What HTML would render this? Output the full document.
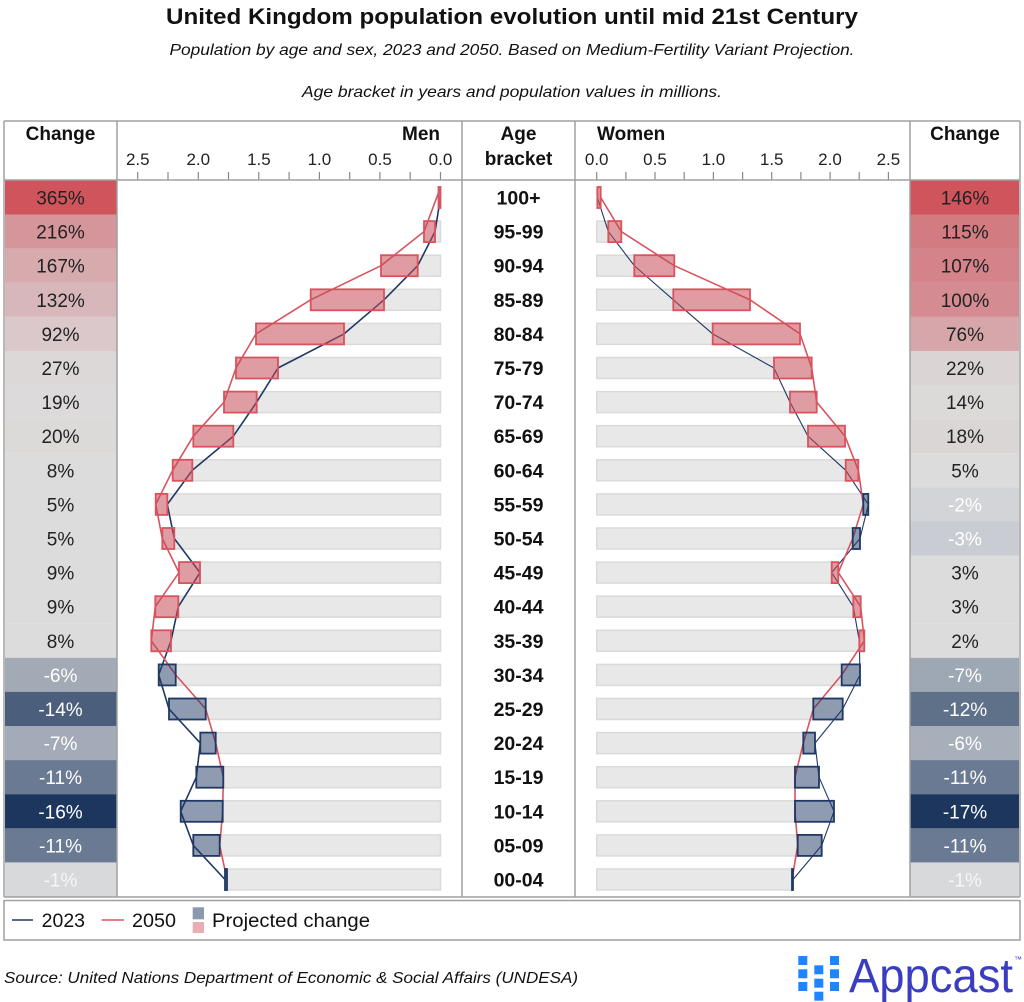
<!DOCTYPE html>
<html><head><meta charset="utf-8"><style>
html,body{margin:0;padding:0;background:#fff}
svg{display:block}
text{font-family:"Liberation Sans",Arial,sans-serif}
</style></head><body>
<svg width="1024" height="1002" viewBox="0 0 1024 1002" xmlns="http://www.w3.org/2000/svg">
<rect width="1024" height="1002" fill="#fff"/>
<!-- titles -->
<text x="512" y="24" text-anchor="middle" font-size="22" font-weight="bold" fill="#111" textLength="692" lengthAdjust="spacingAndGlyphs">United Kingdom population evolution until mid 21st Century</text>
<text x="512" y="55" text-anchor="middle" font-size="16" font-style="italic" fill="#111" textLength="685" lengthAdjust="spacingAndGlyphs">Population by age and sex, 2023 and 2050. Based on Medium-Fertility Variant Projection.</text>
<text x="512" y="97" text-anchor="middle" font-size="16" font-style="italic" fill="#111" textLength="420" lengthAdjust="spacingAndGlyphs">Age bracket in years and population values in millions.</text>

<!-- change cells left -->
<g>
<rect x="5" y="180.4" width="111.5" height="34.2" fill="#cf545c"/>
<rect x="5" y="214.5" width="111.5" height="34.2" fill="#d4959b"/>
<rect x="5" y="248.6" width="111.5" height="34.2" fill="#d7aaae"/>
<rect x="5" y="282.7" width="111.5" height="34.2" fill="#d8b7ba"/>
<rect x="5" y="316.8" width="111.5" height="34.2" fill="#dac8ca"/>
<rect x="5" y="350.9" width="111.5" height="34.2" fill="#dcd8d8"/>
<rect x="5" y="385.0" width="111.5" height="34.2" fill="#dcdada"/>
<rect x="5" y="419.1" width="111.5" height="34.2" fill="#dcd9d9"/>
<rect x="5" y="453.2" width="111.5" height="34.2" fill="#dcdcdc"/>
<rect x="5" y="487.3" width="111.5" height="34.2" fill="#dcdcdc"/>
<rect x="5" y="521.4" width="111.5" height="34.2" fill="#dcdcdc"/>
<rect x="5" y="555.5" width="111.5" height="34.2" fill="#dcdcdc"/>
<rect x="5" y="589.6" width="111.5" height="34.2" fill="#dcdcdc"/>
<rect x="5" y="623.7" width="111.5" height="34.2" fill="#dcdcdc"/>
<rect x="5" y="657.8" width="111.5" height="34.2" fill="#a2aab6"/>
<rect x="5" y="691.9" width="111.5" height="34.2" fill="#4b5e7c"/>
<rect x="5" y="726.0" width="111.5" height="34.2" fill="#a3abb8"/>
<rect x="5" y="760.1" width="111.5" height="34.2" fill="#6b7a93"/>
<rect x="5" y="794.2" width="111.5" height="34.2" fill="#1d365e"/>
<rect x="5" y="828.3" width="111.5" height="34.2" fill="#6b7a93"/>
<rect x="5" y="862.4" width="111.5" height="34.1" fill="#d8d9db"/>
</g>
<g font-size="19" text-anchor="middle">
<text x="60.5" y="204.5" fill="#222">365%</text>
<text x="60.5" y="238.6" fill="#222">216%</text>
<text x="60.5" y="272.7" fill="#222">167%</text>
<text x="60.5" y="306.8" fill="#222">132%</text>
<text x="60.5" y="340.9" fill="#222">92%</text>
<text x="60.5" y="375.0" fill="#222">27%</text>
<text x="60.5" y="409.1" fill="#222">19%</text>
<text x="60.5" y="443.2" fill="#222">20%</text>
<text x="60.5" y="477.3" fill="#222">8%</text>
<text x="60.5" y="511.4" fill="#222">5%</text>
<text x="60.5" y="545.5" fill="#222">5%</text>
<text x="60.5" y="579.6" fill="#222">9%</text>
<text x="60.5" y="613.7" fill="#222">9%</text>
<text x="60.5" y="647.8" fill="#222">8%</text>
<text x="60.5" y="681.9" fill="#fff">-6%</text>
<text x="60.5" y="716.0" fill="#fff">-14%</text>
<text x="60.5" y="750.1" fill="#fff">-7%</text>
<text x="60.5" y="784.2" fill="#fff">-11%</text>
<text x="60.5" y="818.3" fill="#fff">-16%</text>
<text x="60.5" y="852.4" fill="#fff">-11%</text>
<text x="60.5" y="886.5" fill="#f6f6f6">-1%</text>
</g>

<!-- change cells right -->
<g>
<rect x="910.5" y="180.4" width="108.5" height="34.2" fill="#cf545c"/>
<rect x="910.5" y="214.5" width="108.5" height="34.2" fill="#d27b81"/>
<rect x="910.5" y="248.6" width="108.5" height="34.2" fill="#d38389"/>
<rect x="910.5" y="282.7" width="108.5" height="34.2" fill="#d48b91"/>
<rect x="910.5" y="316.8" width="108.5" height="34.2" fill="#d7a6aa"/>
<rect x="910.5" y="350.9" width="108.5" height="34.2" fill="#dbd4d4"/>
<rect x="910.5" y="385.0" width="108.5" height="34.2" fill="#dcd9d9"/>
<rect x="910.5" y="419.1" width="108.5" height="34.2" fill="#dbd6d6"/>
<rect x="910.5" y="453.2" width="108.5" height="34.2" fill="#dcdcdc"/>
<rect x="910.5" y="487.3" width="108.5" height="34.2" fill="#d2d4d8"/>
<rect x="910.5" y="521.4" width="108.5" height="34.2" fill="#c9cdd3"/>
<rect x="910.5" y="555.5" width="108.5" height="34.2" fill="#dcdcdc"/>
<rect x="910.5" y="589.6" width="108.5" height="34.2" fill="#dcdcdc"/>
<rect x="910.5" y="623.7" width="108.5" height="34.2" fill="#dcdcdc"/>
<rect x="910.5" y="657.8" width="108.5" height="34.2" fill="#9ea7b4"/>
<rect x="910.5" y="691.9" width="108.5" height="34.2" fill="#5f7089"/>
<rect x="910.5" y="726.0" width="108.5" height="34.2" fill="#a7afbb"/>
<rect x="910.5" y="760.1" width="108.5" height="34.2" fill="#6b7a93"/>
<rect x="910.5" y="794.2" width="108.5" height="34.2" fill="#1d365e"/>
<rect x="910.5" y="828.3" width="108.5" height="34.2" fill="#6b7a93"/>
<rect x="910.5" y="862.4" width="108.5" height="34.1" fill="#d8d9db"/>
</g>
<g font-size="19" text-anchor="middle">
<text x="965" y="204.5" fill="#222">146%</text>
<text x="965" y="238.6" fill="#222">115%</text>
<text x="965" y="272.7" fill="#222">107%</text>
<text x="965" y="306.8" fill="#222">100%</text>
<text x="965" y="340.9" fill="#222">76%</text>
<text x="965" y="375.0" fill="#222">22%</text>
<text x="965" y="409.1" fill="#222">14%</text>
<text x="965" y="443.2" fill="#222">18%</text>
<text x="965" y="477.3" fill="#222">5%</text>
<text x="965" y="511.4" fill="#fff">-2%</text>
<text x="965" y="545.5" fill="#fff">-3%</text>
<text x="965" y="579.6" fill="#222">3%</text>
<text x="965" y="613.7" fill="#222">3%</text>
<text x="965" y="647.8" fill="#222">2%</text>
<text x="965" y="681.9" fill="#fff">-7%</text>
<text x="965" y="716.0" fill="#fff">-12%</text>
<text x="965" y="750.1" fill="#fff">-6%</text>
<text x="965" y="784.2" fill="#fff">-11%</text>
<text x="965" y="818.3" fill="#fff">-17%</text>
<text x="965" y="852.4" fill="#fff">-11%</text>
<text x="965" y="886.5" fill="#f6f6f6">-1%</text>
</g>

<!-- headers -->
<g font-size="19" font-weight="bold" fill="#111">
<text x="60.5" y="140" text-anchor="middle">Change</text>
<text x="965" y="140" text-anchor="middle">Change</text>
<text x="440" y="140" text-anchor="end">Men</text>
<text x="597" y="140">Women</text>
<text x="518.5" y="140" text-anchor="middle">Age</text>
<text x="518.5" y="165" text-anchor="middle">bracket</text>
</g>
<!-- tick labels -->
<g font-size="17" fill="#222" text-anchor="middle">
<text x="440.5" y="165">0.0</text>
<text x="380" y="165">0.5</text>
<text x="319.4" y="165">1.0</text>
<text x="258.9" y="165">1.5</text>
<text x="198.3" y="165">2.0</text>
<text x="137.8" y="165">2.5</text>
<text x="596.7" y="165">0.0</text>
<text x="655" y="165">0.5</text>
<text x="713.4" y="165">1.0</text>
<text x="771.7" y="165">1.5</text>
<text x="830" y="165">2.0</text>
<text x="888.4" y="165">2.5</text>
</g>
<!-- ticks -->
<g stroke="#888" stroke-width="1.2">
<line x1="440.5" y1="172" x2="440.5" y2="180"/><line x1="410.2" y1="172" x2="410.2" y2="180"/><line x1="379.9" y1="172" x2="379.9" y2="180"/><line x1="349.7" y1="172" x2="349.7" y2="180"/><line x1="319.4" y1="172" x2="319.4" y2="180"/><line x1="289.1" y1="172" x2="289.1" y2="180"/><line x1="258.8" y1="172" x2="258.8" y2="180"/><line x1="228.5" y1="172" x2="228.5" y2="180"/><line x1="198.3" y1="172" x2="198.3" y2="180"/><line x1="168" y1="172" x2="168" y2="180"/><line x1="137.7" y1="172" x2="137.7" y2="180"/>
<line x1="596.7" y1="172" x2="596.7" y2="180"/><line x1="625.9" y1="172" x2="625.9" y2="180"/><line x1="655" y1="172" x2="655" y2="180"/><line x1="684.2" y1="172" x2="684.2" y2="180"/><line x1="713.4" y1="172" x2="713.4" y2="180"/><line x1="742.6" y1="172" x2="742.6" y2="180"/><line x1="771.7" y1="172" x2="771.7" y2="180"/><line x1="800.9" y1="172" x2="800.9" y2="180"/><line x1="830.1" y1="172" x2="830.1" y2="180"/><line x1="859.2" y1="172" x2="859.2" y2="180"/><line x1="888.4" y1="172" x2="888.4" y2="180"/>
</g>

<!-- age labels -->
<g font-size="19.5" font-weight="bold" fill="#111" text-anchor="middle">
<text x="518.5" y="204.5">100+</text>
<text x="518.5" y="238.6">95-99</text>
<text x="518.5" y="272.7">90-94</text>
<text x="518.5" y="306.8">85-89</text>
<text x="518.5" y="340.9">80-84</text>
<text x="518.5" y="375.0">75-79</text>
<text x="518.5" y="409.1">70-74</text>
<text x="518.5" y="443.2">65-69</text>
<text x="518.5" y="477.3">60-64</text>
<text x="518.5" y="511.4">55-59</text>
<text x="518.5" y="545.5">50-54</text>
<text x="518.5" y="579.6">45-49</text>
<text x="518.5" y="613.7">40-44</text>
<text x="518.5" y="647.8">35-39</text>
<text x="518.5" y="681.9">30-34</text>
<text x="518.5" y="716.0">25-29</text>
<text x="518.5" y="750.1">20-24</text>
<text x="518.5" y="784.2">15-19</text>
<text x="518.5" y="818.3">10-14</text>
<text x="518.5" y="852.4">05-09</text>
<text x="518.5" y="886.5">00-04</text>
</g>

<!-- gray bars men -->
<g fill="#e8e8e8" stroke="#dadada" stroke-width="1.5">
<rect x="435" y="221.1" width="5.5" height="21"/>
<rect x="417.7" y="255.2" width="22.8" height="21"/>
<rect x="384" y="289.3" width="56.5" height="21"/>
<rect x="344" y="323.4" width="96.5" height="21"/>
<rect x="278" y="357.5" width="162.5" height="21"/>
<rect x="256.7" y="391.6" width="183.8" height="21"/>
<rect x="233.3" y="425.7" width="207.2" height="21"/>
<rect x="192.3" y="459.8" width="248.2" height="21"/>
<rect x="167.3" y="493.9" width="273.2" height="21"/>
<rect x="174.3" y="528" width="266.2" height="21"/>
<rect x="200" y="562.1" width="240.5" height="21"/>
<rect x="178.3" y="596.2" width="262.2" height="21"/>
<rect x="171" y="630.3" width="269.5" height="21"/>
<rect x="175.7" y="664.4" width="264.8" height="21"/>
<rect x="205.7" y="698.5" width="234.8" height="21"/>
<rect x="215.7" y="732.6" width="224.8" height="21"/>
<rect x="223.3" y="766.7" width="217.2" height="21"/>
<rect x="222.7" y="800.8" width="217.8" height="21"/>
<rect x="219.7" y="834.9" width="220.8" height="21"/>
<rect x="227" y="869" width="213.5" height="21"/>
<!-- women -->
<rect x="596.7" y="221.1" width="11.6" height="21"/>
<rect x="596.7" y="255.2" width="37.6" height="21"/>
<rect x="596.7" y="289.3" width="76.6" height="21"/>
<rect x="596.7" y="323.4" width="116" height="21"/>
<rect x="596.7" y="357.5" width="177.3" height="21"/>
<rect x="596.7" y="391.6" width="193.3" height="21"/>
<rect x="596.7" y="425.7" width="211.3" height="21"/>
<rect x="596.7" y="459.8" width="249" height="21"/>
<rect x="596.7" y="493.9" width="266.6" height="21"/>
<rect x="596.7" y="528" width="256" height="21"/>
<rect x="596.7" y="562.1" width="235" height="21"/>
<rect x="596.7" y="596.2" width="256.6" height="21"/>
<rect x="596.7" y="630.3" width="262.6" height="21"/>
<rect x="596.7" y="664.4" width="245" height="21"/>
<rect x="596.7" y="698.5" width="216.6" height="21"/>
<rect x="596.7" y="732.6" width="206.6" height="21"/>
<rect x="596.7" y="766.7" width="198.3" height="21"/>
<rect x="596.7" y="800.8" width="198.3" height="21"/>
<rect x="596.7" y="834.9" width="201" height="21"/>
<rect x="596.7" y="869" width="195.3" height="21"/>
</g>

<!-- lines -->
<g fill="none" stroke-linejoin="round">
<polyline stroke="#1f3864" stroke-width="1.6" points="440.5,197.5 435,231.6 417.7,265.7 384,299.8 344,333.9 278,368 256.7,402.1 233.3,436.2 192.3,470.3 167.3,504.4 174.3,538.5 200,572.6 178.3,606.7 171,640.8 158.7,674.9 169,709 200.3,743.1 196.3,777.2 180.7,811.3 193.3,845.4 225,879.5"/>
<polyline stroke="#d9535e" stroke-width="1.6" points="439.5,190 424,231.6 381,265.7 310.7,299.8 256,333.9 236,368 224,402.1 193.3,436.2 172.7,470.3 155.7,504.4 162.3,538.5 179,572.6 155.3,606.7 151.3,640.8 175.7,674.9 205.7,709 215.7,743.1 223.3,777.2 222.7,811.3 219.7,845.4 227,879.5"/>
<polyline stroke="#1f3864" stroke-width="1.1" points="597.3,197.5 608.3,231.6 634.3,265.7 673.3,299.8 712.7,333.9 774,368 790,402.1 808,436.2 845.7,470.3 868.3,504.4 860,538.5 831.7,572.6 853.3,606.7 859.3,640.8 860,674.9 842.7,709 815,743.1 819,777.2 834,811.3 821.7,845.4 793,879.5"/>
<polyline stroke="#d9535e" stroke-width="1.6" points="600.7,197.5 621.3,231.6 674.3,265.7 750,299.8 800,333.9 811.7,368 816.7,402.1 845,436.2 858.3,470.3 863.3,504.4 852.7,538.5 838.3,572.6 860.7,606.7 864.3,640.8 841.7,674.9 813.3,709 803.3,743.1 795,777.2 795,811.3 797.7,845.4 792,879.5"/>
</g>

<!-- boxes red -->
<g fill="#c54a55" fill-opacity="0.55" stroke="#d9535e" stroke-width="1.8">
<rect x="438.5" y="187" width="2" height="21"/>
<rect x="424" y="221.1" width="11" height="21"/>
<rect x="381" y="255.2" width="36.7" height="21"/>
<rect x="310.7" y="289.3" width="73.3" height="21"/>
<rect x="256" y="323.4" width="88" height="21"/>
<rect x="236" y="357.5" width="42" height="21"/>
<rect x="224" y="391.6" width="32.7" height="21"/>
<rect x="193.3" y="425.7" width="40" height="21"/>
<rect x="172.7" y="459.8" width="19.6" height="21"/>
<rect x="155.7" y="493.9" width="11.6" height="21"/>
<rect x="162.3" y="528" width="12" height="21"/>
<rect x="179" y="562.1" width="21" height="21"/>
<rect x="155.3" y="596.2" width="23" height="21"/>
<rect x="151.3" y="630.3" width="19.7" height="21"/>
<rect x="597.3" y="187" width="3.4" height="21"/>
<rect x="608.3" y="221.1" width="13" height="21"/>
<rect x="634.3" y="255.2" width="40" height="21"/>
<rect x="673.3" y="289.3" width="76.7" height="21"/>
<rect x="712.7" y="323.4" width="87.3" height="21"/>
<rect x="774" y="357.5" width="37.7" height="21"/>
<rect x="790" y="391.6" width="26.7" height="21"/>
<rect x="808" y="425.7" width="37" height="21"/>
<rect x="845.7" y="459.8" width="12.6" height="21"/>
<rect x="831.7" y="562.1" width="6.6" height="21"/>
<rect x="853.3" y="596.2" width="7.4" height="21"/>
<rect x="859.3" y="630.3" width="5" height="21"/>
</g>
<!-- boxes blue -->
<g fill="#1f3864" fill-opacity="0.5" stroke="#1f3864" stroke-width="1.8">
<rect x="158.7" y="664.4" width="17" height="21"/>
<rect x="169" y="698.5" width="36.7" height="21"/>
<rect x="200.3" y="732.6" width="15.4" height="21"/>
<rect x="196.3" y="766.7" width="27" height="21"/>
<rect x="180.7" y="800.8" width="42" height="21"/>
<rect x="193.3" y="834.9" width="26.4" height="21"/>
<rect x="225" y="869" width="2" height="21"/>
<rect x="863.3" y="493.9" width="5" height="21"/>
<rect x="852.7" y="528" width="7.3" height="21"/>
<rect x="841.7" y="664.4" width="18.3" height="21"/>
<rect x="813.3" y="698.5" width="29.4" height="21"/>
<rect x="803.3" y="732.6" width="11.7" height="21"/>
<rect x="795" y="766.7" width="24" height="21"/>
<rect x="795" y="800.8" width="39" height="21"/>
<rect x="797.7" y="834.9" width="24" height="21"/>
<rect x="792" y="869" width="1" height="21"/>
</g>

<!-- table borders -->
<g stroke="#a0a0a0" stroke-width="1.5" fill="none">
<line x1="4" y1="121" x2="1020" y2="121"/>
<line x1="4" y1="180" x2="1020" y2="180"/>
<line x1="4" y1="897" x2="1020" y2="897"/>
<line x1="4" y1="121" x2="4" y2="897"/>
<line x1="117" y1="121" x2="117" y2="897"/>
<line x1="462" y1="121" x2="462" y2="897"/>
<line x1="575" y1="121" x2="575" y2="897"/>
<line x1="910" y1="121" x2="910" y2="897"/>
<line x1="1020" y1="121" x2="1020" y2="897"/>
<rect x="4" y="900.5" width="1016" height="39.5"/>
</g>

<!-- legend -->
<line x1="12" y1="920" x2="33" y2="920" stroke="#1f3864" stroke-width="1.5"/>
<text x="41.7" y="927" font-size="19" fill="#111" textLength="43.3" lengthAdjust="spacingAndGlyphs">2023</text>
<line x1="101.7" y1="920" x2="124" y2="920" stroke="#d9535e" stroke-width="1.5"/>
<text x="132" y="927" font-size="19" fill="#111" textLength="44" lengthAdjust="spacingAndGlyphs">2050</text>
<rect x="192.7" y="907.3" width="11.3" height="12" fill="#8b98ad"/>
<rect x="192.7" y="922" width="11.3" height="11" fill="#e8aeb3"/>
<text x="212" y="927" font-size="19" fill="#111" textLength="158" lengthAdjust="spacingAndGlyphs">Projected change</text>

<!-- source -->
<text x="4" y="983" font-size="16" font-style="italic" fill="#111" textLength="574" lengthAdjust="spacingAndGlyphs">Source: United Nations Department of Economic &amp; Social Affairs (UNDESA)</text>

<!-- logo -->
<g fill="#1e85ff">
<rect x="798.3" y="956" width="9" height="9"/>
<rect x="798.3" y="969.3" width="9" height="9"/>
<rect x="798.3" y="982" width="9" height="9"/>
<rect x="814.3" y="965.3" width="9" height="9"/>
<rect x="814.3" y="978.7" width="9" height="9"/>
<rect x="814.3" y="991.7" width="9" height="9"/>
<rect x="830" y="956" width="9" height="9"/>
<rect x="830" y="969.3" width="9" height="9"/>
<rect x="830" y="982" width="9" height="9"/>
</g>
<text x="849" y="992" font-size="48" fill="#3a3dbf" textLength="164" lengthAdjust="spacingAndGlyphs">Appcast</text>
<text x="1014" y="962" font-size="8" fill="#3a3dbf">™</text>
</svg>
</body></html>
